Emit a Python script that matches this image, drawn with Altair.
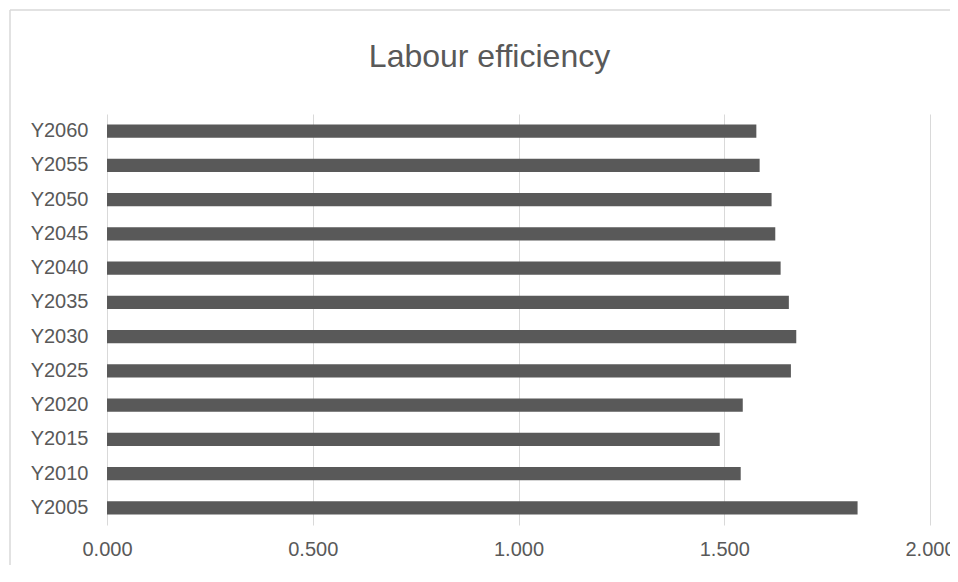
import altair as alt
import pandas as pd

years = ["Y2005", "Y2010", "Y2015", "Y2020", "Y2025", "Y2030",
         "Y2035", "Y2040", "Y2045", "Y2050", "Y2055", "Y2060"]
values = [1.824, 1.540, 1.489, 1.545, 1.662, 1.675,
          1.657, 1.637, 1.624, 1.615, 1.586, 1.578]
x_ticks = [0.0, 0.5, 1.0, 1.5, 2.0]
title_text = ["Labour efficiency"]

df = pd.DataFrame({"year": years, "value": values})
tdf = pd.DataFrame({"t": title_text})

W, H = 823, 411
PAD = {"left": 99, "top": 106, "right": 20, "bottom": 40}

bars = alt.Chart(df).mark_bar(color="#595959").encode(
    x=alt.X("value:Q",
            scale=alt.Scale(domain=[0, 2], nice=False, zero=True),
            axis=alt.Axis(values=x_ticks, format=".3f", title=None, ticks=False,
                          domain=False, grid=True, gridColor="#d9d9d9",
                          labelColor="#595959", labelFontSize=20,
                          labelFont="Liberation Sans", labelPadding=14,
                          labelFlush=False)),
    y=alt.Y("year:N", sort=list(reversed(years)),
            scale=alt.Scale(paddingInner=0.62, paddingOuter=0.31),
            axis=alt.Axis(title=None, ticks=False, domain=False,
                          labelColor="#595959", labelFontSize=20,
                          labelFont="Liberation Sans", labelPadding=19)),
)

top_line = alt.Chart(tdf).mark_rule(stroke="#d9d9d9", strokeWidth=1.5).encode(
    x=alt.value(-97), x2=alt.value(W + 300), y=alt.value(-104),
)
left_line = alt.Chart(tdf).mark_rule(stroke="#d9d9d9", strokeWidth=1.5).encode(
    x=alt.value(-97), y=alt.value(-104), y2=alt.value(H + 300),
)

title = alt.Chart(tdf).mark_text(fontSize=32, font="Liberation Sans", color="#595959",
                                 align="center", baseline="alphabetic").encode(
    text="t:N",
    x=alt.value(W / 2 - 29),
    y=alt.value(-47),
)

chart = alt.layer(top_line, left_line, bars, title).properties(
    width=W, height=H,
    padding=PAD,
    autosize=alt.AutoSizeParams(type="none"),
).configure_view(stroke=None)

chart.save("out.html", embed_options={"renderer": "svg", "actions": False})
